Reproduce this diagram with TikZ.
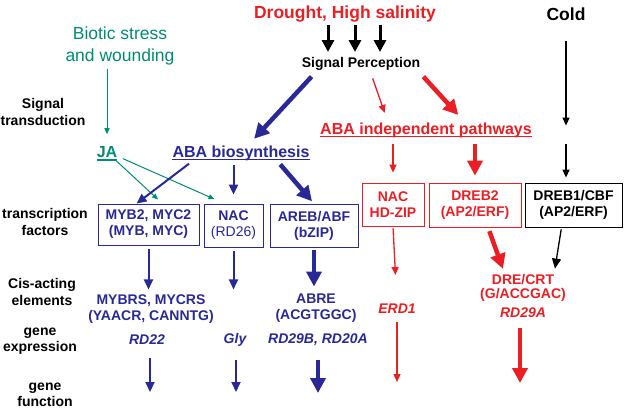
\documentclass[tikz,border=0pt]{standalone}
\usepackage{fontspec}
\setmainfont{Liberation Sans}
\usetikzlibrary{arrows.meta}
\definecolor{ablue}{RGB}{40,40,150}
\definecolor{ared}{RGB}{235,30,35}
\definecolor{ateal}{RGB}{0,140,115}
\begin{document}
\begin{tikzpicture}[x=1pt,y=-1pt,
  every node/.style={inner sep=0pt, align=center, font=\fontsize{14}{16}\selectfont\bfseries},
  bigtxt/.style={font=\fontsize{17.5}{21}\selectfont\bfseries},
  lbl/.style={font=\fontsize{14}{16.5}\selectfont\bfseries, text=black},
  ultxt/.style={font=\fontsize{16}{18}\selectfont\bfseries},
  tfbox/.style={draw, line width=0.8pt, inner sep=2pt},
  thinA/.style={line width=1.3pt, -{Triangle[length=8pt,width=7pt]}},
  tealA/.style={ateal, line width=1pt, -{Triangle[length=6pt,width=5pt]}},
  medA/.style={line width=2pt, -{Triangle[length=10pt,width=9pt]}},
  blkA/.style={black, line width=3pt, -{Triangle[length=12pt,width=12pt]}},
  thickA/.style={line width=4.5pt, -{Triangle[length=15pt,width=15pt]}},
  ul/.style={line width=1.4pt}
]
\useasboundingbox (0,0) rectangle (626,410);

% ---- top texts
\node[bigtxt, text=ared] (drought) at (345,14) {Drought, High salinity};
\node[bigtxt] (cold) at (566,14) {Cold};
\node[font=\fontsize{17.5}{21.5}\selectfont, text=ateal] (biotic) at (120,46) {Biotic stress\\and wounding};
\node (sigper) at (361,64) {Signal Perception};
\node[lbl] (sigtr) at (43,112) {Signal\\transduction};

% ---- underlined pathway labels
\node[ultxt, text=ared] (abaind) at (426,130) {ABA independent pathways};
\draw[ared, ul] ([yshift=-2.5pt]abaind.base west) -- ([yshift=-2.5pt]abaind.base east);
\node[ultxt, text=ateal] (ja) at (107,152) {JA};
\draw[ateal, ul] ([yshift=-2.5pt]ja.base west) -- ([yshift=-2.5pt]ja.base east);
\node[ultxt, text=ablue] (abab) at (241,153) {ABA biosynthesis};
\draw[ablue, ul] ([yshift=-2.5pt]abab.base west) -- ([yshift=-2.5pt]abab.base east);

% ---- boxes
\node[tfbox, ablue, minimum width=101pt, minimum height=41pt] (myb) at (148.5,224.5) {MYB2, MYC2\\(MYB, MYC)};
\node[tfbox, ablue, minimum width=59pt, minimum height=43pt] (nac) at (233.5,225.5) {NAC\\{\mdseries (RD26)}};
\node[tfbox, ablue, minimum width=88pt, minimum height=43pt] (areb) at (314,225.5) {AREB/ABF\\(bZIP)};
\node[tfbox, ared, minimum width=62pt, minimum height=43pt] (nachd) at (393,204.5) {NAC\\HD-ZIP};
\node[tfbox, ared, minimum width=92pt, minimum height=44pt] (dreb2) at (475,205) {DREB2\\(AP2/ERF)};
\node[tfbox, black, minimum width=97pt, minimum height=44pt] (dreb1) at (573.5,205) {DREB1/CBF\\(AP2/ERF)};

% ---- left labels
\node[lbl] (tf) at (45,222) {transcription\\factors};
\node[lbl] (cis) at (42,292) {Cis-acting\\elements};
\node[lbl] (gexp) at (40,341) {gene\\expression};
\node[lbl] (gfun) at (45,395) {gene\\function};

% ---- cis elements and genes
\node[text=ablue] (mybrs) at (151,309) {MYBRS, MYCRS\\(YAACR, CANNTG)};
\node[text=ablue, font=\fontsize{14}{16}\selectfont\bfseries\itshape] (rd22) at (147,340) {RD22};
\node[text=ablue, font=\fontsize{14}{16}\selectfont\bfseries\itshape] (gly) at (235,340) {Gly};
\node[text=ablue] (abre) at (316,308) {ABRE\\(ACGTGGC)};
\node[text=ablue, font=\fontsize{14}{16}\selectfont\bfseries\itshape] (rd29b) at (318,340) {RD29B, RD20A};
\node[text=ared, font=\fontsize{14}{16}\selectfont\bfseries\itshape] (erd1) at (397,309) {ERD1};
\node[text=ared, font=\fontsize{14}{13.5}\selectfont\bfseries] (drecrt) at (523,288) {DRE/CRT\\(G/ACCGAC)};
\node[text=ared, font=\fontsize{14}{16}\selectfont\bfseries\itshape] (rd29a) at (523,313) {RD29A};

% ---- free ends of connectors
\coordinate (e1) at (150,392);
\coordinate (e2) at (236,392);
\coordinate (e3) at (318,393);
\coordinate (e4) at (397,382);
\coordinate (e5) at (520,383);

% ---- connectors
\foreach \xx in {328,355,380} {
  \coordinate (dt) at (\xx,25); \coordinate (db) at (\xx,52);
  \draw[blkA] (dt) -- (db);
}
\draw[ablue, thickA, shorten <=8pt, shorten >=9pt] ([xshift=-44pt]sigper.south) -- ([xshift=7pt]abab.north);
\draw[ared, thinA, shorten <=8pt, shorten >=10pt] ([xshift=9pt]sigper.south) -- ([xshift=-38pt]abaind.north);
\draw[ared, thickA, shorten <=8pt, shorten >=10pt] ([xshift=57pt]sigper.south) -- ([xshift=39pt]abaind.north);
\draw[black, thinA, shorten <=20pt, shorten >=57pt] (cold.south) -- (dreb1.north -| cold.south);
\draw[tealA, shorten <=4pt, shorten >=12pt] (biotic.south -| ja.north) -- (ja.north);
\draw[tealA, shorten <=4pt, shorten >=6pt] ([xshift=6pt]ja.south) -- ([xshift=14pt]myb.north);
\draw[tealA, shorten <=2pt, shorten >=11pt] ([xshift=14pt]ja.south) -- ([xshift=-9pt]nac.north);
\draw[ablue, medA, shorten <=5pt] ([xshift=-48pt]abab.south) -- ([xshift=-12pt]myb.north);
\draw[ablue, medA, shorten <=4pt, shorten >=9pt] (abab.south -| nac.north) -- (nac.north);
\draw[ablue, thickA, shorten <=5pt, shorten >=3pt] ([xshift=36pt]abab.south) -- (areb.north);
\draw[ared, thinA, shorten <=6pt, shorten >=10pt] (abaind.south -| nachd.north) -- (nachd.north);
\draw[ared, thickA, shorten <=6pt, shorten >=7pt] (abaind.south -| dreb2.north) -- (dreb2.north);
\draw[black, thinA, shorten <=6pt, shorten >=5pt] (cold.south |- abaind.south) -- (cold.south |- dreb1.north);

\draw[ablue, medA, shorten <=4pt, shorten >=5pt] (myb.south) -- (mybrs.north -| myb.south);
\draw[ablue, medA, shorten <=4pt, shorten >=5pt] (nac.south) -- (mybrs.north -| nac.south);
\draw[ablue, thickA, shorten <=3pt, shorten >=7pt] (areb.south) -- (abre.north -| areb.south);
\draw[ared, thinA, shorten <=2pt, shorten >=29pt] (nachd.south) -- (erd1.north);
\draw[ared, thickA, shorten <=4pt, shorten >=6pt] ([xshift=13pt]dreb2.south) -- ([xshift=-18pt]drecrt.north);
\draw[black, line width=1.3pt, -{Triangle[length=10pt,width=9pt]}, shorten <=2pt, shorten >=6pt] ([xshift=-12pt]dreb1.south) -- ([xshift=31pt]drecrt.north);

\draw[ablue, medA, shorten <=13pt] (rd22.south -| e1) -- (e1);
\draw[ablue, medA, shorten <=13pt] (gly.south -| e2) -- (e2);
\draw[ablue, thickA, shorten <=14pt] (rd29b.south -| e3) -- (e3);
\draw[ared, thinA, shorten <=8pt] (erd1.south) -- (e4);
\draw[ared, thickA, shorten <=10pt] (rd29a.south -| e5) -- (e5);
\end{tikzpicture}
\end{document}
